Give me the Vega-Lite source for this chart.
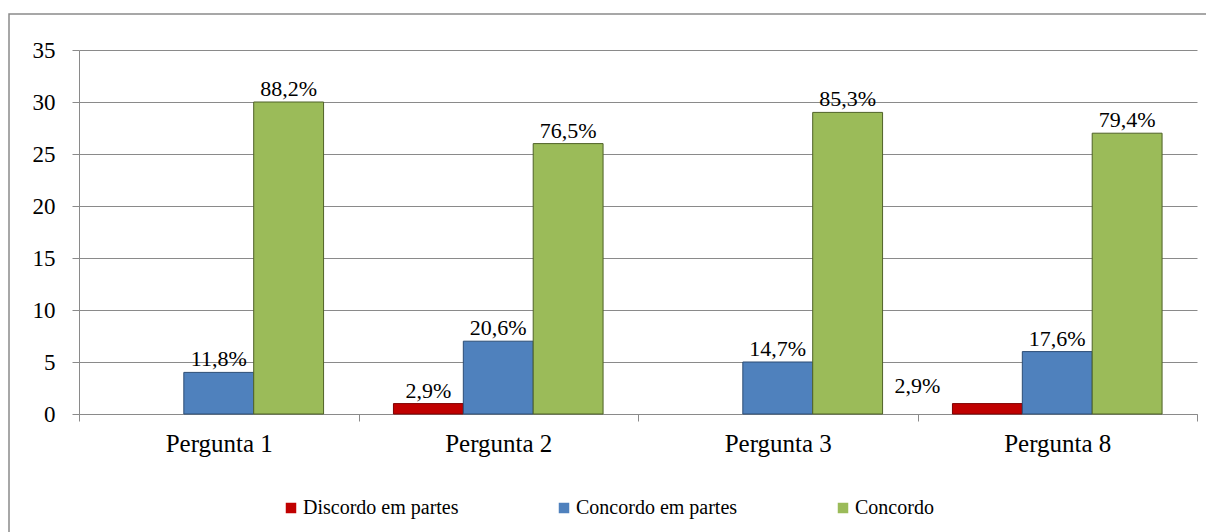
{
  "$schema": "https://vega.github.io/schema/vega-lite/v6.json",
  "width": 1200,
  "height": 521,
  "autosize": {"type": "none"},
  "padding": {"left": 9, "top": 14, "right": -3, "bottom": -3},
  "background": "white",
  "config": {
    "view": {"stroke": "#8a8a8a", "strokeWidth": 1.5},
    "font": "Liberation Serif",
    "axis": {"labelFont": "Liberation Serif"},
    "legend": {"labelFont": "Liberation Serif"},
    "text": {"font": "Liberation Serif"}
  },
  "data": {
    "values": [
      {"pergunta": "Pergunta 1", "serie": "Discordo em partes", "valor": 0, "pct": ""},
      {"pergunta": "Pergunta 1", "serie": "Concordo em partes", "valor": 4, "pct": "11,8%"},
      {"pergunta": "Pergunta 1", "serie": "Concordo", "valor": 30, "pct": "88,2%"},
      {"pergunta": "Pergunta 2", "serie": "Discordo em partes", "valor": 1, "pct": "2,9%"},
      {"pergunta": "Pergunta 2", "serie": "Concordo em partes", "valor": 7, "pct": "20,6%"},
      {"pergunta": "Pergunta 2", "serie": "Concordo", "valor": 26, "pct": "76,5%"},
      {"pergunta": "Pergunta 3", "serie": "Discordo em partes", "valor": 0, "pct": ""},
      {"pergunta": "Pergunta 3", "serie": "Concordo em partes", "valor": 5, "pct": "14,7%"},
      {"pergunta": "Pergunta 3", "serie": "Concordo", "valor": 29, "pct": "85,3%"},
      {"pergunta": "Pergunta 8", "serie": "Discordo em partes", "valor": 1, "pct": "2,9%"},
      {"pergunta": "Pergunta 8", "serie": "Concordo em partes", "valor": 6, "pct": "17,6%"},
      {"pergunta": "Pergunta 8", "serie": "Concordo", "valor": 27, "pct": "79,4%"}
    ]
  },
  "encoding": {
    "x": {
      "field": "pergunta",
      "type": "nominal",
      "sort": ["Pergunta 1", "Pergunta 2", "Pergunta 3", "Pergunta 8"],
      "scale": {"range": [70, 1188], "paddingInner": 0, "paddingOuter": 0},
      "axis": {
        "title": null,
        "orient": "bottom",
        "offset": -121,
        "tickBand": "extent",
        "tickSize": 7,
        "tickColor": "#8a8a8a",
        "domainColor": "#8a8a8a",
        "labelAngle": 0,
        "labelFontSize": 25,
        "labelPadding": 10,
        "labelColor": "black",
        "labelFont": "Liberation Serif",
        "grid": false
      }
    },
    "xOffset": {
      "field": "serie",
      "type": "nominal",
      "sort": ["Discordo em partes", "Concordo em partes", "Concordo"],
      "scale": {"domain": ["Discordo em partes", "Concordo em partes", "Concordo"], "paddingInner": 0, "paddingOuter": 0.5}
    },
    "y": {
      "field": "valor",
      "type": "quantitative",
      "scale": {"domain": [0, 35], "range": [400, 36], "nice": false, "zero": true},
      "axis": {
        "title": null,
        "offset": -70,
        "values": [0, 5, 10, 15, 20, 25, 30, 35],
        "tickSize": 7,
        "tickColor": "#8a8a8a",
        "domainColor": "#8a8a8a",
        "gridColor": "#8a8a8a",
        "grid": true,
        "labelFontSize": 23,
        "labelPadding": 17,
        "labelColor": "black",
        "labelFont": "Liberation Serif"
      }
    }
  },
  "layer": [
    {
      "transform": [{"filter": "datum.valor > 0"}],
      "mark": {"type": "bar", "strokeWidth": 1},
      "encoding": {
        "color": {
          "field": "serie",
          "type": "nominal",
          "scale": {"domain": ["Discordo em partes", "Concordo em partes", "Concordo"], "range": ["#C00000", "#4F81BD", "#9BBB59"]},
          "legend": {
            "title": null,
            "orient": "none",
            "legendX": 272,
            "legendY": 484,
            "direction": "horizontal",
            "labelFontSize": 20,
            "labelFont": "Liberation Serif",
            "labelColor": "black",
            "symbolType": "square",
            "symbolSize": 110,
            "symbolStrokeWidth": 0,
            "labelOffset": 2,
            "columnPadding": 95,
            "labelLimit": 400
          }
        },
        "stroke": {
          "field": "serie",
          "type": "nominal",
          "scale": {"domain": ["Discordo em partes", "Concordo em partes", "Concordo"], "range": ["#7F0000", "#2C4D75", "#4F6228"]},
          "legend": null
        }
      }
    },
    {
      "transform": [{"filter": "datum.valor > 0 && !(datum.pergunta == 'Pergunta 8' && datum.serie == 'Discordo em partes')"}],
      "mark": {"type": "text", "baseline": "alphabetic", "dy": -6, "fontSize": 22, "font": "Liberation Serif", "color": "black"},
      "encoding": {"text": {"field": "pct"}}
    },
    {
      "transform": [{"filter": "datum.pergunta == 'Pergunta 8' && datum.serie == 'Discordo em partes'"}],
      "mark": {"type": "text", "baseline": "alphabetic", "dx": -70, "dy": -11, "fontSize": 22, "font": "Liberation Serif", "color": "black"},
      "encoding": {"text": {"field": "pct"}}
    }
  ]
}
